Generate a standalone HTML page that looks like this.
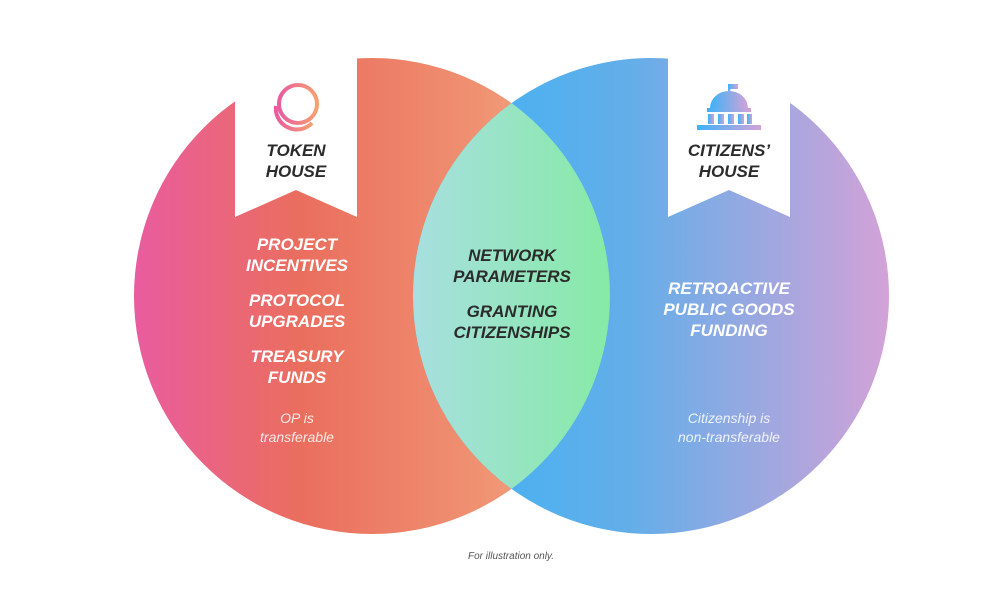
<!DOCTYPE html>
<html><head><meta charset="utf-8"><style>
html,body{margin:0;padding:0;background:#fff;}
svg{display:block;}
.b{font-family:"Liberation Sans",sans-serif;font-weight:bold;font-style:italic;font-size:17px;fill:#fff;text-anchor:middle;}
.d{fill:#2b2b2b;}
.l{font-family:"Liberation Sans",sans-serif;font-style:italic;font-size:14px;fill:#fff;fill-opacity:.85;text-anchor:middle;}
</style></head><body>
<svg width="1000" height="602" viewBox="0 0 1000 602">
<defs>
<linearGradient id="gl" x1="134" x2="610" y1="0" y2="0" gradientUnits="userSpaceOnUse">
<stop offset="0" stop-color="#e95c9f"/><stop offset="0.35" stop-color="#ea6e5e"/><stop offset="0.7" stop-color="#ef8f70"/><stop offset="1" stop-color="#f6b185"/></linearGradient>
<linearGradient id="gr" x1="413" x2="889" y1="0" y2="0" gradientUnits="userSpaceOnUse">
<stop offset="0" stop-color="#3cb3f6"/><stop offset="0.45" stop-color="#62aee9"/><stop offset="1" stop-color="#d3a2d8"/></linearGradient>
<linearGradient id="gm" x1="413" x2="610" y1="0" y2="0" gradientUnits="userSpaceOnUse">
<stop offset="0" stop-color="#a8dfe0"/><stop offset="1" stop-color="#86eaa6"/></linearGradient>
<linearGradient id="ic" x1="0" x2="1" y1="0" y2="0">
<stop offset="0" stop-color="#e95c9f"/><stop offset="1" stop-color="#f6a070"/></linearGradient>
<linearGradient id="ic2" x1="0" x2="1" y1="0" y2="0">
<stop offset="0" stop-color="#3cb3f6"/><stop offset="1" stop-color="#d3a2d8"/></linearGradient>
<clipPath id="cl"><circle cx="372" cy="296" r="238"/></clipPath>
</defs>
<circle cx="372" cy="296" r="238" fill="url(#gl)"/>
<circle cx="651" cy="296" r="238" fill="url(#gr)"/>
<circle cx="651" cy="296" r="238" fill="url(#gm)" clip-path="url(#cl)"/>
<path d="M235 40 H357 V217 L296 190 L235 217 Z" fill="#fff"/>
<path d="M668 40 H790 V217 L729 190 L668 217 Z" fill="#fff"/>
<g fill="none" stroke="url(#ic)" stroke-width="4">
<circle cx="298" cy="104" r="19"/>
<path d="M276 106 A21 21 0 0 0 312 123"/>
</g>
<g fill="url(#ic2)">
<rect x="728" y="84" width="2.5" height="10"/>
<rect x="728" y="84" width="10" height="5"/>
<path d="M710 108 A19 17 0 0 1 748 108 Z"/>
<rect x="707" y="108" width="44" height="4"/>
<rect x="708" y="114" width="6" height="10"/><rect x="718" y="114" width="6" height="10"/><rect x="728" y="114" width="6" height="10"/><rect x="738" y="114" width="6" height="10"/><rect x="747" y="114" width="5" height="10"/>
<rect x="697" y="125" width="64" height="5"/>
</g>
<text class="b d" x="296" y="156">TOKEN</text>
<text class="b d" x="296" y="177">HOUSE</text>
<text class="b d" x="729" y="156">CITIZENS’</text>
<text class="b d" x="729" y="177">HOUSE</text>
<g class="b">
<text x="297" y="250">PROJECT</text><text x="297" y="271">INCENTIVES</text>
<text x="297" y="306">PROTOCOL</text><text x="297" y="327">UPGRADES</text>
<text x="297" y="362">TREASURY</text><text x="297" y="383">FUNDS</text>
<text x="729" y="294">RETROACTIVE</text><text x="729" y="315">PUBLIC GOODS</text><text x="729" y="336">FUNDING</text>
</g>
<text class="b d" x="512" y="261">NETWORK</text><text class="b d" x="512" y="282">PARAMETERS</text>
<text class="b d" x="512" y="317">GRANTING</text><text class="b d" x="512" y="338">CITIZENSHIPS</text>
<text class="l" x="297" y="423">OP is</text><text class="l" x="297" y="442">transferable</text>
<text class="l" x="729" y="423">Citizenship is</text><text class="l" x="729" y="442">non-transferable</text>
<text x="511" y="559" font-family="Liberation Sans,sans-serif" font-style="italic" font-size="10" fill="#555" text-anchor="middle">For illustration only.</text>
</svg>
</body></html>
